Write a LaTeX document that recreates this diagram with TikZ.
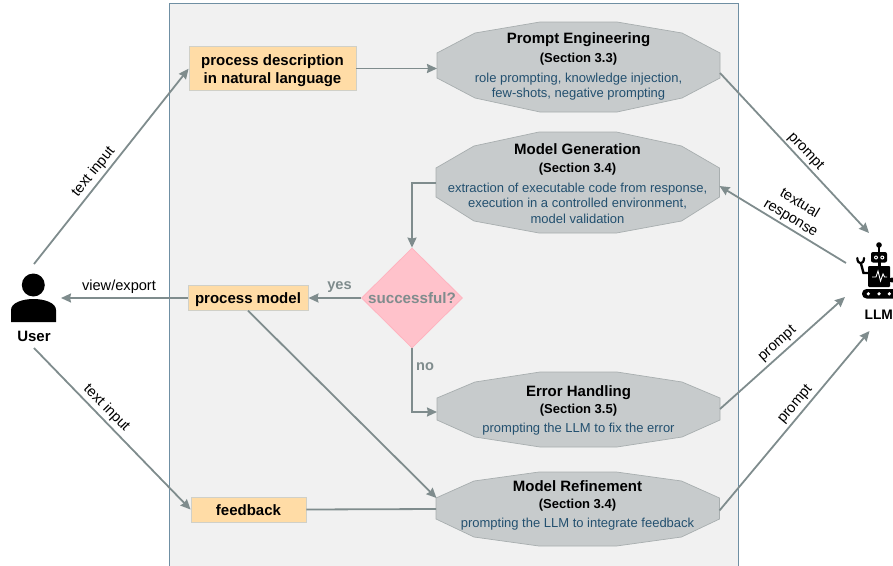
\documentclass[tikz,border=0pt]{standalone}
\usepackage{fontspec}
\setmainfont{Liberation Sans}
\usetikzlibrary{arrows.meta,shapes.geometric,calc}
\definecolor{conn}{HTML}{7F8C8D}
\definecolor{panelfill}{HTML}{F1F1F1}
\definecolor{panelline}{HTML}{6F8FA3}
\definecolor{boxfill}{HTML}{FFDCA6}
\definecolor{boxline}{HTML}{D0D0C8}
\definecolor{octfill}{HTML}{C7CBCC}
\definecolor{octline}{HTML}{A8AEAF}
\definecolor{bodyc}{HTML}{23506F}
\definecolor{pinkfill}{HTML}{FFC2CB}
\definecolor{pinkline}{HTML}{FFB3BF}
\newcommand{\ttl}[1]{{\fontsize{15}{16}\selectfont\bfseries #1}}
\newcommand{\sect}[1]{{\fontsize{13}{16}\selectfont\bfseries #1}}
\newcommand{\bdy}[1]{{\fontsize{13}{16}\selectfont\color{bodyc}#1}}
\newcommand{\octa}[8]{%
  \fill[octfill] (#1,#5) -- (#1+38,#4) -- (#1+103,#3) -- (#2-103,#3) -- (#2-38,#4) -- (#2,#5)
    -- (#2,#6) -- (#2-38,#7) -- (#2-103,#8) -- (#1+103,#8) -- (#1+38,#7) -- (#1,#6) -- cycle;
  \draw[octline,line width=.7pt] (#1,#5) -- (#1+38,#4) -- (#1+103,#3) -- (#2-103,#3) -- (#2-38,#4) -- (#2,#5)
    -- (#2,#6) -- (#2-38,#7) -- (#2-103,#8) -- (#1+103,#8) -- (#1+38,#7) -- (#1,#6) -- cycle;
}
\tikzset{
  panel/.style={fill=panelfill,draw=panelline,line width=.9pt},
  stepbox/.style={draw=boxline,fill=boxfill,line width=.9pt,inner sep=0pt,align=center,
    font=\fontsize{15}{18}\selectfont\bfseries},
  octtext/.style={inner sep=0pt,align=center,font=\fontsize{13}{16}\selectfont},
  conn/.style={draw=conn,line width=1.8pt},
  arr/.style={conn,-{Stealth[length=10pt,width=9pt,inset=1pt]}},
  lab/.style={inner sep=0pt,align=center,font=\fontsize{14.6}{17}\selectfont},
  glab/.style={inner sep=0pt,text=conn,font=\fontsize{14.6}{16}\selectfont\bfseries},
  black lab/.style={inner sep=0pt,font=\fontsize{15}{16}\selectfont\bfseries},
}
\begin{document}
\begin{tikzpicture}[x=1pt,y=-1pt]
\useasboundingbox (0,0) rectangle (893,565);
\begin{scope}
\clip (0,0) rectangle (893,565);
\draw[panel] (169.5,3.5) rectangle (738.5,575);

% octagons (left,right,top,shoulder,side top,side bottom,lower shoulder,bottom)
\octa{437}{720}{22}{33}{53}{78}{98}{112}
\octa{436}{719.5}{132}{146}{168}{197}{221}{233}
\octa{437}{720}{372}{382}{398}{420}{437}{447}
\octa{436}{719.5}{472}{481}{498}{519}{537}{546}

\node[octtext] (pe) at (578.5,66.2) {\ttl{Prompt Engineering}\\[3pt]\sect{(Section 3.3)}\\[4pt]\bdy{role prompting, knowledge injection,}\\[-.5pt]\bdy{few-shots, negative prompting}};
\node[octtext] (mg) at (577.5,183.5) {\ttl{Model Generation}\\[2pt]\sect{(Section 3.4)}\\[4pt]\bdy{extraction of executable code from response,}\\[-.5pt]\bdy{execution in a controlled environment,}\\[-.5pt]\bdy{model validation}};
\node[octtext] (eh) at (578.5,410) {\ttl{Error Handling}\\[1pt]\sect{(Section 3.5)}\\[3pt]\bdy{prompting the LLM to fix the error}};
\node[octtext] (mr) at (577.5,505) {\ttl{Model Refinement}\\[1pt]\sect{(Section 3.4)}\\[3pt]\bdy{prompting the LLM to integrate feedback}};

% boxes
\node[stepbox,minimum width=167pt,minimum height=44pt] (desc) at (272.5,68.8) {\rule{0pt}{15pt}process description\\in natural language};
\node[stepbox,minimum width=120pt,minimum height=24.5pt] (model) at (248,298) {\rule{0pt}{15pt}process model};
\node[stepbox,minimum width=115pt,minimum height=25pt] (fb) at (248.5,509.5) {\rule{0pt}{12.5pt}feedback};
\node[diamond,draw=pinkline,fill=pinkfill,line width=.8pt,minimum width=101pt,minimum height=100pt,inner sep=0pt,text=conn,font=\fontsize{15.2}{16}\selectfont\bfseries] (ok) at (412,298) {\kern-6pt successful?\kern-6pt};

% user icon
\fill[black] (33.3,285) circle (11.5);
\fill[black] (11,322) -- (11,310) .. controls (11,303) and (22,299) .. (33.5,299) .. controls (45,299) and (56,303) .. (56,310) -- (56,322) -- cycle;
\node[black lab] (user) at (34,336) {User};

% robot icon
\fill[black] (879,245) circle (2.8);
\fill[black] (878.2,245) rectangle (879.8,253);
\fill[black,rounded corners=2pt] (871,252) rectangle (887,262.5);
\fill[white] (876,257.5) circle (2) (882.3,257.5) circle (2);
\fill[black] (876,257.5) circle (.9) (882.3,257.5) circle (.9);
\fill[black] (877.5,262) rectangle (880.5,267);
\fill[black,rounded corners=1pt] (868,266) rectangle (890,287);
\draw[white,line width=.9pt] (872,277) -- (876,277) -- (878,271) -- (880.5,281) -- (883,274) -- (884.5,277) -- (887,277);
\draw[black,line width=2.4pt] (868,273) -- (863.5,273) -- (860.8,263);
\draw[black,line width=2.2pt,line cap=round] (857.3,258) .. controls (857.3,265) and (864,265) .. (864,258);
\fill[black,rounded corners=4.5pt] (862,289) rectangle (900,298.5);
\fill[white] (868.3,293.8) circle (1.8) (879,293.8) circle (1.8) (889.3,293.8) circle (1.8);
\fill[black] (892,280) circle (2.5);
\node[inner sep=0pt,font=\fontsize{13.8}{16}\selectfont\bfseries,anchor=west] (llm) at (864.4,315) {LLM};

% ports
\coordinate (u-ne) at (34,264);
\coordinate (u-e) at (61,298);
\coordinate (u-se) at (34,348);
\coordinate (l-nw) at (869,233);
\coordinate (l-w) at (846,263);
\coordinate (l-w2) at (845,297);
\coordinate (l-sw) at (869.5,331);
\coordinate (pe-w) at (437,68.5);
\coordinate (pe-e) at (720,73);
\coordinate (mg-w) at (436,183);
\coordinate (mg-e) at (719.5,186);
\coordinate (eh-w) at (437,412);
\coordinate (eh-e) at (720,409);
\coordinate (mr-nw) at (436.5,498);
\coordinate (mr-w) at (436,509);
\coordinate (mr-e) at (719.5,510.5);

% connectors
\draw[arr] (u-ne) -- (desc.west);
\draw[arr] (desc.east |- pe-w) -- (pe-w);
\draw[arr] (model.west) -- (u-e);
\draw[arr] (ok.west) -- (model.east);
\draw[arr] (mg-w) -| (ok.north);
\draw[arr] (ok.south) |- (eh-w);
\draw[arr] (model.south) -- (mr-nw);
\draw[arr] (u-se) -- (fb.west);
\draw[conn] (fb.east) -- (mr-w);
\draw[arr] (pe-e) -- (l-nw);
\draw[arr] (l-w) -- (mg-e);
\draw[arr] (eh-e) -- (l-w2);
\draw[arr] (mr-e) -- (l-sw);

% labels
\node[lab,rotate=51] (t1) at (93.5,172) {text input};
\node[lab] (t2) at (119,287) {view/export};
\node[lab,rotate=-45.5] (t3) at (106.5,408) {text input};
\node[lab,rotate=-47] (t4) at (805.5,151.5) {prompt};
\node[lab,rotate=-31] (t5) at (795,211) {textual\\response};
\node[lab,rotate=42] (t6) at (777.5,344) {prompt};
\node[lab,rotate=50] (t7) at (795.5,404.5) {prompt};
\node[glab] (yes) at (339.5,287) {yes};
\node[glab] (no) at (425,366.5) {no};
\end{scope}
\end{tikzpicture}
\end{document}
